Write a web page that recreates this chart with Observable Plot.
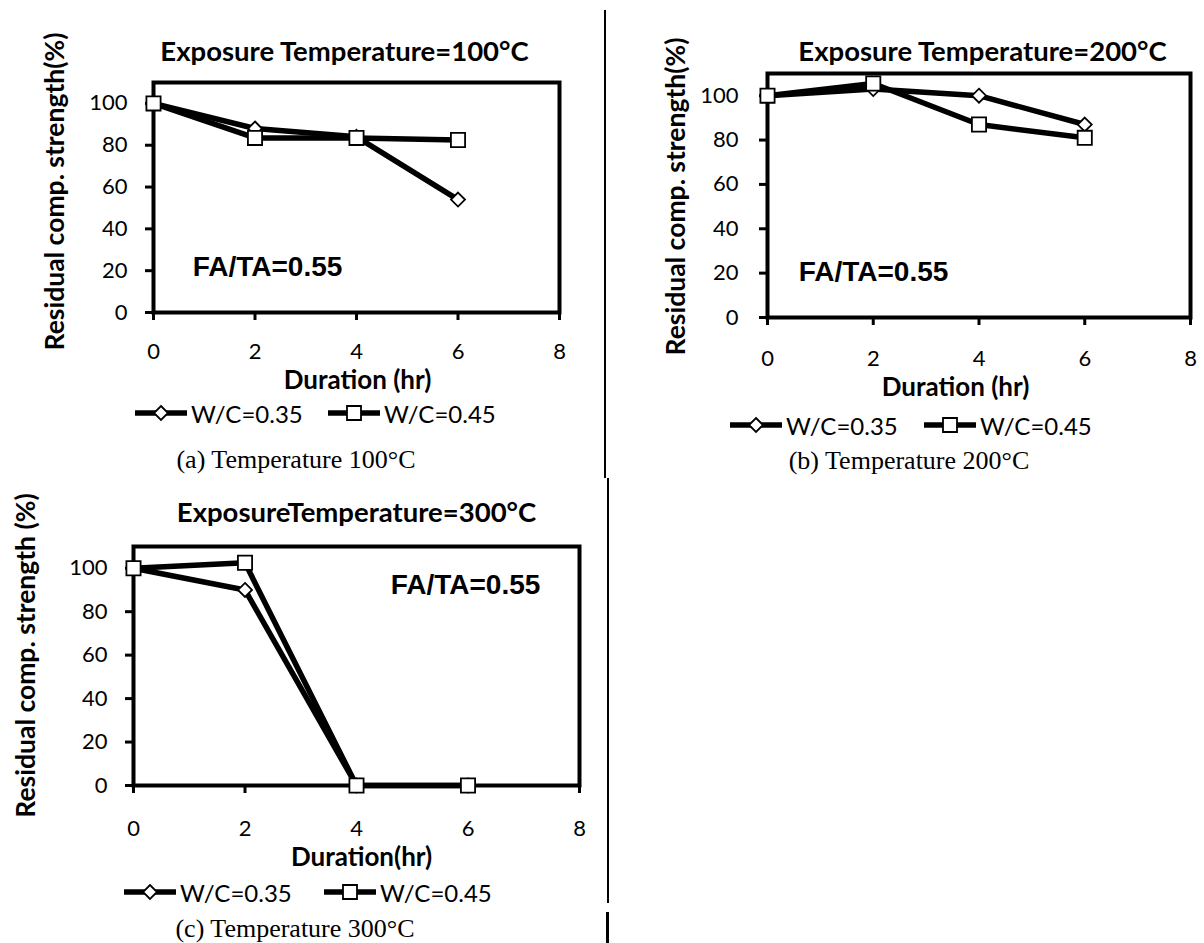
<!DOCTYPE html>
<html><head><meta charset="utf-8">
<script src="https://cdn.jsdelivr.net/npm/d3@7"></script>
<script src="https://cdn.jsdelivr.net/npm/@observablehq/plot@0.6"></script>
<style>
html,body{margin:0;padding:0;background:#fff}
body{width:1204px;height:943px;position:relative;overflow:hidden;font-family:Lato,sans-serif}
.panel{position:absolute}
.panel svg{overflow:visible}
.legend-item{position:absolute;display:flex;align-items:center;font-family:Lato,sans-serif;font-size:24px;color:#000;white-space:nowrap;height:24px}
.legend-item svg{margin-right:4px}
.caption{position:absolute;font-family:"Liberation Serif","Times New Roman",serif;font-size:26px;color:#000;transform:translate(-50%,-50%);white-space:nowrap}
.sep{position:absolute;background:#000}
</style></head><body>
<script>
// ---- data ----
const duration = [0, 2, 4, 6];
const seriesNames = ["W/C=0.35", "W/C=0.45"];
const a35 = [100, 88, 84, 54];
const a45 = [100, 83.5, 83.5, 82.5];
const b35 = [100, 103, 100, 87];
const b45 = [100, 105.5, 87, 81];
const c35 = [100, 90, 0, 0];
const c45 = [100, 102.5, 0, 0];
const xTicks = [0, 2, 4, 6, 8];
const yTicks = [0, 20, 40, 60, 80, 100];
const titles = ["Exposure Temperature=100°C", "Exposure Temperature=200°C", "ExposureTemperature=300°C"];
const yLabels = ["Residual comp. strength(%)", "Residual comp. strength(%)", "Residual comp. strength (%)"];
const xLabels = ["Duration (hr)", "Duration (hr)", "Duration(hr)"];
const captions = ["(a) Temperature 100°C", "(b) Temperature 200°C", "(c) Temperature 300°C"];
const annotation = "FA/TA=0.55";

// ---- layout (styling only) ----
const panels = [
  {s35: a35, s45: a45, left: 0, top: 0, w: 600, h: 440, ml: 153, mr: 41, mt: 82, mb: 128,
   xpad: 23, ypad: 18, title: [-12, -30], xl: [1, 68], yl: [-98, -6], ann: ["bottom-left", 114, -45],
   legend: {y: 413, items: [135, 328]}, cap: [296, 460]},
  {s35: b35, s45: b45, left: 610, top: 0, w: 594, h: 440, ml: 157, mr: 14, mt: 73, mb: 123,
   xpad: 25, ypad: 21, title: [3.5, -21], xl: [-23.5, 70], yl: [-91, 1], ann: ["bottom-left", 106, -45],
   legend: {y: 425, items: [730, 924]}, cap: [909, 461]},
  {s35: c35, s45: c45, left: 0, top: 470, w: 600, h: 410, ml: 133, mr: 21, mt: 76, mb: 95,
   xpad: 27, ypad: 18, title: [0, -33], xl: [5, 72], yl: [-107, -10.5], ann: ["top-left", 332, 39],
   legend: {y: 892, items: [124, 324]}, cap: [295, 929]}
];

function legendGlyph(symbol) {
  const ns = "http://www.w3.org/2000/svg";
  const svg = document.createElementNS(ns, "svg");
  svg.setAttribute("width", 52); svg.setAttribute("height", 24);
  const line = document.createElementNS(ns, "line");
  line.setAttribute("x1", 0); line.setAttribute("x2", 52); line.setAttribute("y1", 12); line.setAttribute("y2", 12);
  line.setAttribute("stroke", "#000"); line.setAttribute("stroke-width", 5.5);
  svg.appendChild(line);
  const m = document.createElementNS(ns, "path");
  if (symbol === "diamond") m.setAttribute("d", "M26,5L33,12L26,19L19,12Z");
  else m.setAttribute("d", "M19,5H33V19H19Z");
  m.setAttribute("fill", "#fff"); m.setAttribute("stroke", "#000"); m.setAttribute("stroke-width", 1.8);
  svg.appendChild(m);
  return svg;
}

const centered = {textAnchor: "middle", lineAnchor: "middle", text: d => d};

panels.forEach((p, k) => {
  const rows = [];
  duration.forEach((d, i) => {
    rows.push({duration: d, strength: p.s35[i], series: seriesNames[0]});
    rows.push({duration: d, strength: p.s45[i], series: seriesNames[1]});
  });
  const chart = Plot.plot({
    width: p.w, height: p.h,
    marginLeft: p.ml, marginRight: p.mr, marginTop: p.mt, marginBottom: p.mb,
    style: {fontFamily: "Lato, sans-serif", fontSize: "22px", color: "#000", background: "transparent", overflow: "visible"},
    x: {domain: [0, 8]},
    y: {domain: [0, 110]},
    marks: [
      Plot.axisX({ticks: xTicks, tickSize: 8, tickPadding: p.xpad, strokeWidth: 3, label: null, tickFormat: d => String(d)}),
      Plot.axisY({ticks: yTicks, tickSize: 8, tickPadding: p.ypad, strokeWidth: 3, label: null, tickFormat: d => String(d)}),
      Plot.frame({stroke: "#000", strokeWidth: 4}),
      Plot.line(rows, {x: "duration", y: "strength", z: "series", stroke: "#000", strokeWidth: 5.5, strokeLinejoin: "round"}),
      Plot.dot(rows.filter(r => r.series === seriesNames[0]), {x: "duration", y: "strength", symbol: "diamond2", r: 6.3, fill: "#fff", stroke: "#000", strokeWidth: 1.8}),
      Plot.dot(rows.filter(r => r.series === seriesNames[1]), {x: "duration", y: "strength", symbol: "square", r: 8, fill: "#fff", stroke: "#000", strokeWidth: 1.8}),
      Plot.text([titles[k]], {...centered, frameAnchor: "top", dx: p.title[0], dy: p.title[1], fontWeight: "bold", fontSize: 27.5}),
      Plot.text([xLabels[k]], {...centered, frameAnchor: "bottom", dx: p.xl[0], dy: p.xl[1], fontWeight: "bold", fontSize: 26}),
      Plot.text([yLabels[k]], {...centered, frameAnchor: "left", rotate: -90, dx: p.yl[0], dy: p.yl[1], fontWeight: "bold", fontSize: 26.5}),
      Plot.text([annotation], {...centered, frameAnchor: p.ann[0], dx: p.ann[1], dy: p.ann[2], fontWeight: "bold", fontSize: 28, fontFamily: "Liberation Sans, Arial, sans-serif"})
    ]
  });
  const holder = document.createElement("div");
  holder.className = "panel";
  holder.style.left = p.left + "px";
  holder.style.top = p.top + "px";
  holder.appendChild(chart);
  document.body.appendChild(holder);

  p.legend.items.forEach((x, j) => {
    const item = document.createElement("div");
    item.className = "legend-item";
    item.style.left = x + "px";
    item.style.top = (p.legend.y - 12) + "px";
    item.appendChild(legendGlyph(j === 0 ? "diamond" : "square"));
    const span = document.createElement("span");
    span.textContent = seriesNames[j];
    item.appendChild(span);
    document.body.appendChild(item);
  });

  const cap = document.createElement("div");
  cap.className = "caption";
  cap.style.left = p.cap[0] + "px";
  cap.style.top = p.cap[1] + "px";
  cap.textContent = captions[k];
  document.body.appendChild(cap);
});

[[604, 10, 2, 468], [607, 478, 1.5, 425], [606, 912, 3, 31]].forEach(([l, t, w, h]) => {
  const d = document.createElement("div");
  d.className = "sep";
  d.style.left = l + "px"; d.style.top = t + "px"; d.style.width = w + "px"; d.style.height = h + "px";
  document.body.appendChild(d);
});
</script>
</body></html>
